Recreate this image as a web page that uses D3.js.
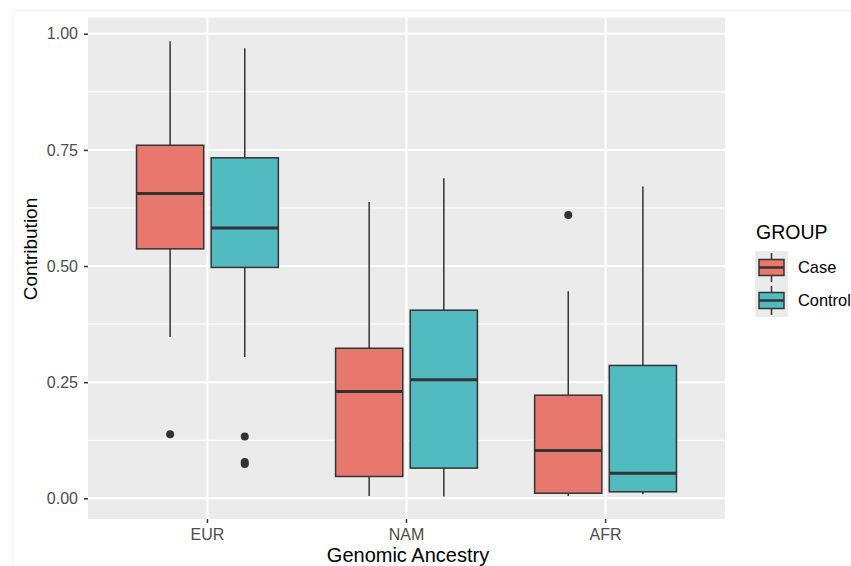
<!DOCTYPE html>
<html>
<head>
<meta charset="utf-8">
<script src="https://cdn.jsdelivr.net/npm/d3@7"></script>
<style>
  body { margin: 0; background: #fff; }
  text { font-family: "Liberation Sans", Arial, sans-serif; }
</style>
</head>
<body>
<div id="chart"></div>
<script>
// categories and groups
var ancestries = ["EUR", "NAM", "AFR"];
var groups = ["Case", "Control"];
var groupColors = ["#E8786D", "#52BBC2"];
var yTicks = [0, 0.25, 0.5, 0.75, 1];

// box stats: [lowWhisker, q1, median, q3, highWhisker]
var caseStats = [
  [0.347, 0.537, 0.656, 0.760, 0.984],
  [0.005, 0.047, 0.230, 0.323, 0.638],
  [0.005, 0.011, 0.103, 0.222, 0.446]
];
var controlStats = [
  [0.304, 0.497, 0.582, 0.733, 0.969],
  [0.004, 0.065, 0.255, 0.405, 0.689],
  [0.009, 0.014, 0.054, 0.286, 0.671]
];
var caseOutliers = [[0.138], [], [0.610]];
var controlOutliers = [[0.133, 0.078, 0.074], [], []];

function init() {
    var width = 851;
    var height = 566;
    var panel = { left: 88, right: 725, top: 17.5, bottom: 519 };

    var svg = d3.select("#chart")
        .append("svg")
        .attr("width", width)
        .attr("height", height);

    // faint frame of the original screenshot
    svg.append("path")
        .attr("d", "M13," + height + "V10.5H" + width)
        .attr("fill", "none")
        .attr("stroke", "#f0f0f0")
        .attr("stroke-width", 1);

    var y = d3.scaleLinear()
        .domain([-0.0445, 1.035])
        .range([panel.bottom, panel.top]);

    // ggplot discrete expansion: 0.6 units each side
    var unit = (panel.right - panel.left) / 3.2;
    function cx(a) { return panel.left + (0.6 + ancestries.indexOf(a)) * unit; }

    var dodge = d3.scaleBand()
        .domain(groups)
        .range([-0.375 * unit, 0.375 * unit]);
    var boxW = dodge.bandwidth() * 0.9;

    // panel background
    svg.append("rect")
        .attr("x", panel.left).attr("y", panel.top)
        .attr("width", panel.right - panel.left)
        .attr("height", panel.bottom - panel.top)
        .attr("fill", "#EBEBEB");

    // minor grid
    var minor = [0.125, 0.375, 0.625, 0.875];
    svg.selectAll(".minor")
        .data(minor).enter()
        .append("line")
        .attr("x1", panel.left).attr("x2", panel.right)
        .attr("y1", function (d) { return y(d); })
        .attr("y2", function (d) { return y(d); })
        .attr("stroke", "#fff").attr("stroke-width", 1);

    // major grid
    svg.selectAll(".major")
        .data(yTicks).enter()
        .append("line")
        .attr("x1", panel.left).attr("x2", panel.right)
        .attr("y1", function (d) { return y(d); })
        .attr("y2", function (d) { return y(d); })
        .attr("stroke", "#fff").attr("stroke-width", 2);

    svg.selectAll(".vgrid")
        .data(ancestries).enter()
        .append("line")
        .attr("x1", cx).attr("x2", cx)
        .attr("y1", panel.top).attr("y2", panel.bottom)
        .attr("stroke", "#fff").attr("stroke-width", 2);

    // boxes
    var boxes = [];
    ancestries.forEach(function (a, i) {
        boxes.push({ a: a, g: 0, s: caseStats[i], out: caseOutliers[i] });
        boxes.push({ a: a, g: 1, s: controlStats[i], out: controlOutliers[i] });
    });

    var bx = svg.selectAll(".box")
        .data(boxes).enter()
        .append("g")
        .attr("transform", function (d) {
            return "translate(" + (cx(d.a) + dodge(groups[d.g]) + dodge.bandwidth() / 2) + ",0)";
        });

    bx.append("line")
        .attr("x1", 0).attr("x2", 0)
        .attr("y1", function (d) { return y(d.s[4]); })
        .attr("y2", function (d) { return y(d.s[3]); })
        .attr("stroke", "#333").attr("stroke-width", 1.5);
    bx.append("line")
        .attr("x1", 0).attr("x2", 0)
        .attr("y1", function (d) { return y(d.s[1]); })
        .attr("y2", function (d) { return y(d.s[0]); })
        .attr("stroke", "#333").attr("stroke-width", 1.5);
    bx.append("rect")
        .attr("x", -boxW / 2).attr("width", boxW)
        .attr("y", function (d) { return y(d.s[3]); })
        .attr("height", function (d) { return y(d.s[1]) - y(d.s[3]); })
        .attr("fill", function (d) { return groupColors[d.g]; })
        .attr("stroke", "#333").attr("stroke-width", 1.5);
    bx.append("line")
        .attr("x1", -boxW / 2).attr("x2", boxW / 2)
        .attr("y1", function (d) { return y(d.s[2]); })
        .attr("y2", function (d) { return y(d.s[2]); })
        .attr("stroke", "#333").attr("stroke-width", 3);
    bx.selectAll(".out")
        .data(function (d) { return d.out; }).enter()
        .append("circle")
        .attr("cx", 0)
        .attr("cy", function (d) { return y(d); })
        .attr("r", 4)
        .attr("fill", "#333");

    // y axis
    var yAxis = svg.append("g")
        .attr("transform", "translate(" + panel.left + ",0)")
        .call(d3.axisLeft(y).tickValues(yTicks).tickFormat(d3.format(".2f")).tickSize(4).tickPadding(6));
    yAxis.select(".domain").remove();
    yAxis.selectAll("line").attr("stroke", "#333").attr("stroke-width", 1.5);
    yAxis.selectAll("text").attr("fill", "#4D4D4D").style("font-size", "16px")
        .style("font-family", "Liberation Sans, Arial, sans-serif");

    // x axis
    var xAxis = svg.append("g")
        .attr("transform", "translate(0," + panel.bottom + ")");
    xAxis.selectAll(".tk")
        .data(ancestries).enter()
        .append("line")
        .attr("x1", cx).attr("x2", cx)
        .attr("y1", 0).attr("y2", 4)
        .attr("stroke", "#333").attr("stroke-width", 1.5);
    xAxis.selectAll(".lb")
        .data(ancestries).enter()
        .append("text")
        .attr("x", cx).attr("y", 21)
        .attr("text-anchor", "middle")
        .attr("fill", "#4D4D4D")
        .style("font-size", "16px")
        .text(function (d) { return d; });

    // axis titles
    svg.append("text")
        .attr("x", 408).attr("y", 562)
        .attr("text-anchor", "middle")
        .attr("fill", "#000")
        .style("font-size", "20px")
        .text("Genomic Ancestry");

    svg.append("text")
        .attr("transform", "translate(37,249) rotate(-90)")
        .attr("text-anchor", "middle")
        .attr("fill", "#000")
        .style("font-size", "19px")
        .text("Contribution");

    // legend
    var legend = svg.append("g").attr("transform", "translate(755,0)");
    legend.append("text")
        .attr("x", 1).attr("y", 239)
        .attr("fill", "#000")
        .style("font-size", "19.5px")
        .text("GROUP");

    var keys = legend.selectAll(".key")
        .data(groups).enter()
        .append("g")
        .attr("transform", function (d, i) { return "translate(0," + (251 + i * 33) + ")"; });
    keys.append("rect")
        .attr("width", 33).attr("height", 33)
        .attr("fill", "#EBEBEB");
    keys.append("line")
        .attr("x1", 16.5).attr("x2", 16.5)
        .attr("y1", 2).attr("y2", 31)
        .attr("stroke", "#333").attr("stroke-width", 1.5);
    keys.append("rect")
        .attr("x", 4).attr("y", 8.5)
        .attr("width", 25).attr("height", 16)
        .attr("fill", function (d, i) { return groupColors[i]; })
        .attr("stroke", "#333").attr("stroke-width", 1.5);
    keys.append("line")
        .attr("x1", 4).attr("x2", 29)
        .attr("y1", 16.5).attr("y2", 16.5)
        .attr("stroke", "#333").attr("stroke-width", 2.5);
    keys.append("text")
        .attr("x", 43).attr("y", 22)
        .attr("fill", "#000")
        .style("font-size", "16.4px")
        .text(function (d) { return d; });
}

window.onload = init;
</script>
</body>
</html>
